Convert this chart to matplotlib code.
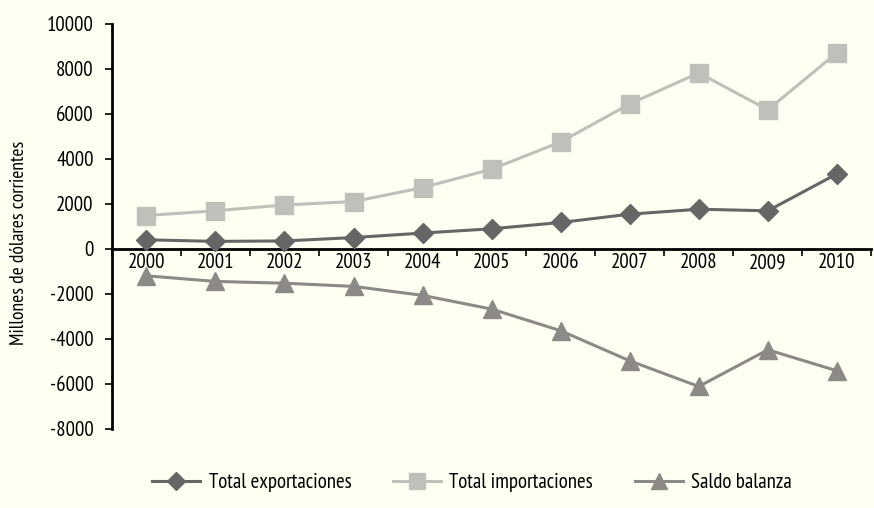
import matplotlib
matplotlib.use("Agg")
import matplotlib.pyplot as plt
from matplotlib import font_manager

years = ["2000", "2001", "2002", "2003", "2004", "2005", "2006", "2007", "2008", "2009", "2010"]
exportaciones = [400, 330, 350, 500, 700, 890, 1170, 1540, 1760, 1690, 3330]
importaciones = [1480, 1690, 1950, 2100, 2720, 3540, 4750, 6440, 7820, 6180, 8710]
saldo = [-1200, -1450, -1530, -1670, -2070, -2680, -3640, -4980, -6120, -4490, -5420]
yticks = [-8000, -6000, -4000, -2000, 0, 2000, 4000, 6000, 8000, 10000]

names = {f.name for f in font_manager.fontManager.ttflist}
fam = "DejaVu Sans"
for cand in ["PT Sans Narrow", "Open Sans Condensed", "IBM Plex Sans Condensed"]:
    if cand in names:
        fam = cand
        break
plt.rcParams['font.family'] = [fam, 'DejaVu Sans']

bg = "#FFFFF2"
fig = plt.figure(figsize=(8.74, 5.08), dpi=100, facecolor=bg)
ax = fig.add_axes([0.128, 0.156, 0.869, 0.797], facecolor=bg)

x = list(range(len(years)))
ax.plot(x, exportaciones, color="#666666", lw=2.2, marker="D", ms=10,
        markerfacecolor="#666666", markeredgecolor="#666666", label="Total exportaciones", zorder=3)
ax.plot(x, importaciones, color="#C0BFBA", lw=2.2, marker="s", ms=13,
        markerfacecolor="#C0BFBA", markeredgecolor="#C0BFBA", label="Total importaciones", zorder=3)
ax.plot(x, saldo, color="#8C8986", lw=2.2, marker="^", ms=13,
        markerfacecolor="#8C8986", markeredgecolor="#8C8986", label="Saldo balanza", zorder=3)

ax.set_xlim(-0.5, len(years) - 0.5)
ax.set_ylim(-8000, 10000)
ax.set_yticks(yticks)
ax.set_yticklabels([str(v) for v in yticks], fontsize=15)
ax.tick_params(axis='y', direction='out', length=5, width=1.2, pad=8)

ax.spines['top'].set_visible(False)
ax.spines['right'].set_visible(False)
ax.spines['bottom'].set_position(('data', 0))
ax.spines['bottom'].set_linewidth(2)
ax.spines['left'].set_linewidth(2)

ax.set_xticks(x)
ax.set_xticklabels(years, fontsize=15)
ax.set_xticks([i + 0.5 for i in range(-1, len(years))], minor=True)
ax.tick_params(axis='x', which='major', length=0, pad=3)
ax.tick_params(axis='x', which='minor', direction='out', length=5, width=1.2)

ax.set_ylabel("Millones de dólares corrientes", fontsize=14, labelpad=10)
ax.yaxis.set_label_coords(-0.11, 0.46)

fig.legend(loc="center", bbox_to_anchor=(0.54, 0.05), ncol=3, frameon=False,
           fontsize=15, handlelength=2.3, handletextpad=0.4, columnspacing=2.0, markerscale=0.9)

fig.savefig("out.png", dpi=100, facecolor=bg)
